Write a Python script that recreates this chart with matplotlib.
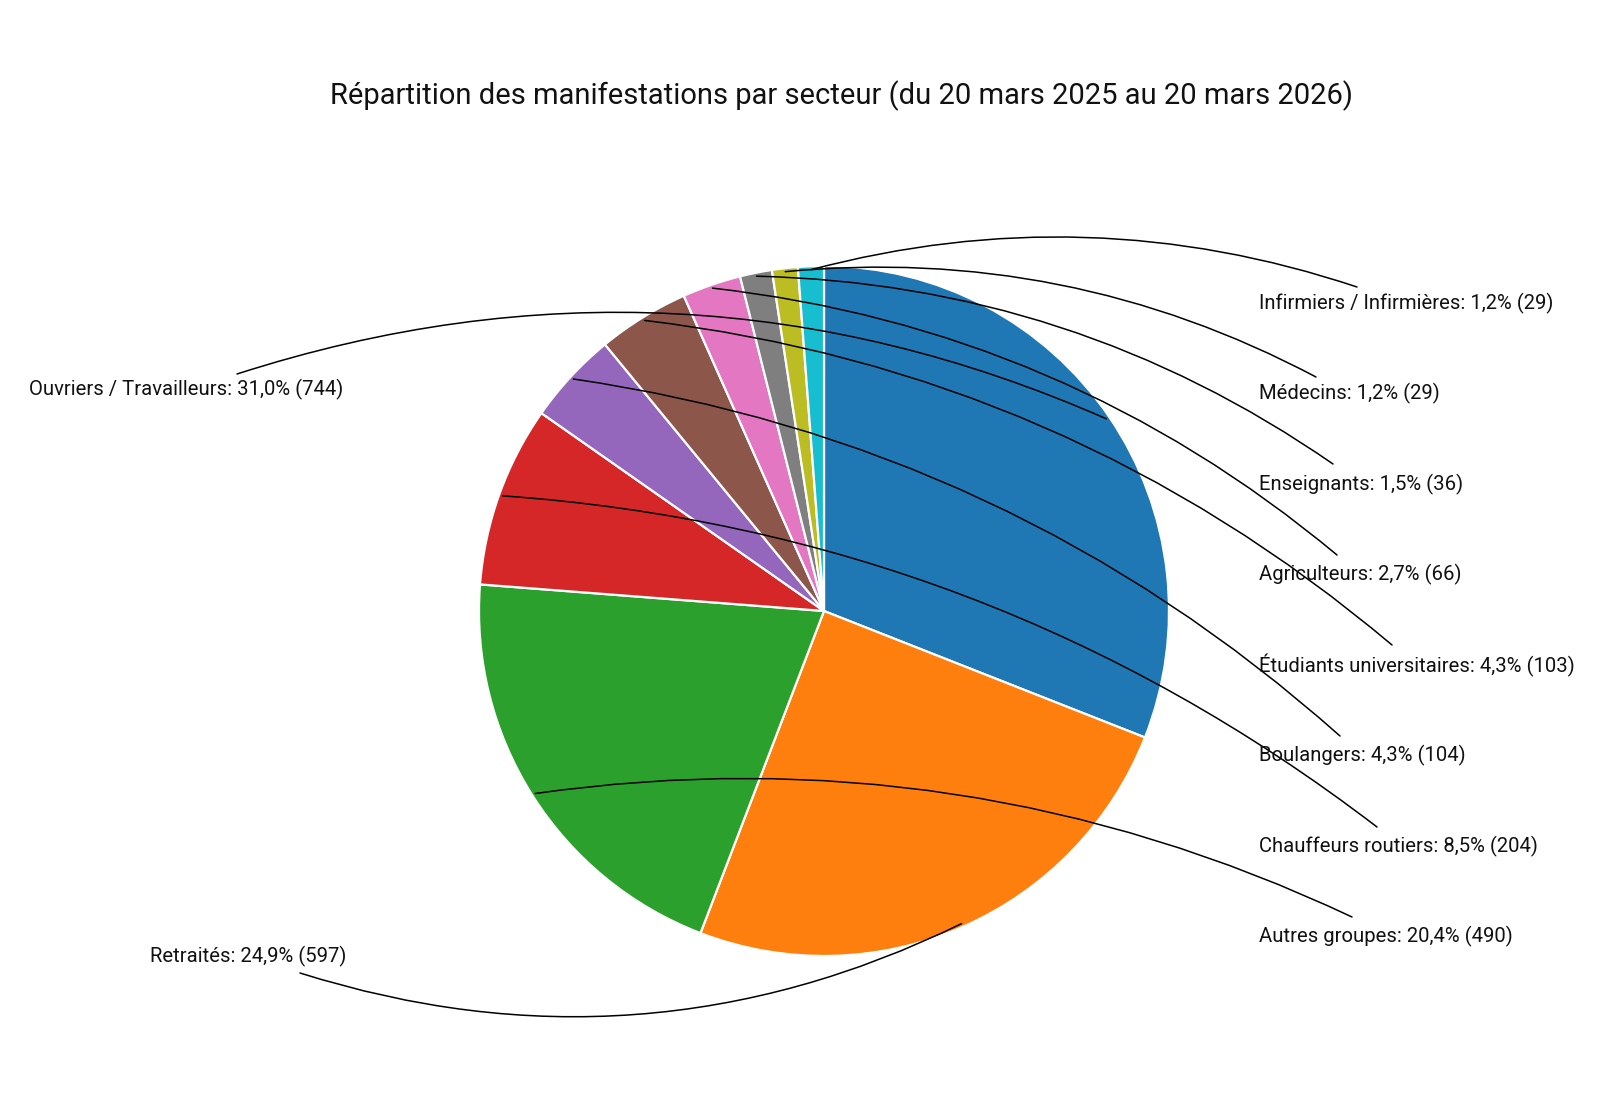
import numpy as np
import matplotlib.pyplot as plt

plt.rcParams['font.family'] = ['Roboto', 'DejaVu Sans']

# data
secteurs = ['Ouvriers / Travailleurs', 'Retraités', 'Autres groupes',
            'Chauffeurs routiers', 'Boulangers', 'Étudiants universitaires',
            'Agriculteurs', 'Enseignants', 'Médecins', 'Infirmiers / Infirmières']
nombres = [744, 597, 490, 204, 104, 103, 66, 36, 29, 29]
couleurs = ['#1f77b4', '#ff7f0e', '#2ca02c', '#d62728', '#9467bd',
            '#8c564b', '#e377c2', '#7f7f7f', '#bcbd22', '#17becf']

titre = 'Répartition des manifestations par secteur (du 20 mars 2025 au 20 mars 2026)'

# layout (pixels, y measured from the top of the image)
W, H = 1600, 1120
centre = (824, 611)
rayon = 345
# label text anchor (left, vertical centre) and connector start
lab_pos = {
    'Ouvriers / Travailleurs': (29, 389),
    'Retraités': (150, 956),
    'Infirmiers / Infirmières': (1259, 303),
    'Médecins': (1259, 393),
    'Enseignants': (1259, 484),
    'Agriculteurs': (1259, 574),
    'Étudiants universitaires': (1259, 665),
    'Boulangers': (1259, 755),
    'Chauffeurs routiers': (1259, 846),
    'Autres groupes': (1259, 936),
}
lien_pos = {
    'Ouvriers / Travailleurs': (237, 374),
    'Retraités': (300, 973),
    'Infirmiers / Infirmières': (1357, 287),
    'Médecins': (1316, 377),
    'Enseignants': (1333, 464),
    'Agriculteurs': (1337, 555),
    'Étudiants universitaires': (1392, 645),
    'Boulangers': (1340, 736),
    'Chauffeurs routiers': (1377, 827),
    'Autres groupes': (1352, 917),
}
courbure = {
    'Ouvriers / Travailleurs': -0.19,
    'Retraités': 0.2,
}

fig = plt.figure(figsize=(16, 11.2), dpi=100)
ax = fig.add_axes([0, 0, 1, 1])

wedges, _ = ax.pie(nombres, colors=couleurs, startangle=90, counterclock=False,
                   center=(centre[0], H - centre[1]), radius=rayon,
                   wedgeprops=dict(edgecolor='white', linewidth=1.6),
                   frame=True)
ax.set_xlim(0, W)
ax.set_ylim(0, H)
ax.set_aspect('auto')
ax.axis('off')

total = sum(nombres)
for nom, n, w in zip(secteurs, nombres, wedges):
    pct = f'{100 * n / total:.1f}'.replace('.', ',')
    lx, ly = lab_pos[nom]
    ax.text(lx, H - ly, f'{nom}: {pct}% ({n})', fontsize=14.6, ha='left', va='center',
            color='#111111')
    ang = np.deg2rad((w.theta1 + w.theta2) / 2)
    ex = centre[0] + 0.99 * rayon * np.cos(ang)
    ey = H - centre[1] + 0.99 * rayon * np.sin(ang)
    sx, sy = lien_pos[nom]
    rad = courbure.get(nom, 0.15)
    ax.annotate('', xy=(ex, ey), xytext=(sx, H - sy),
                arrowprops=dict(arrowstyle='-', color='black', lw=1.1,
                                shrinkA=0, shrinkB=0,
                                connectionstyle=f'arc3,rad={rad}'))

ax.text(842, H - 96, titre, fontsize=21, ha='center', va='center', color='#111111')

fig.savefig('out.png', dpi=100, facecolor='white')
